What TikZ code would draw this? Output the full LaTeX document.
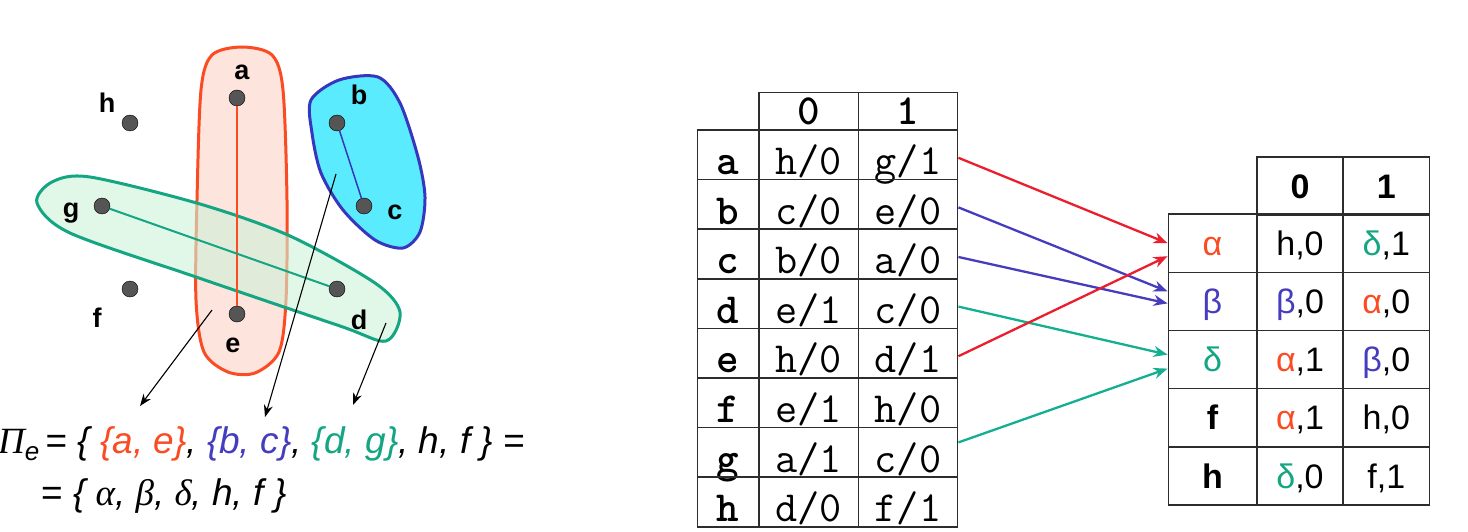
\documentclass[tikz,border=0pt]{standalone}
\usepackage{fontspec}
\usepackage{tikz}
\usetikzlibrary{arrows.meta, positioning}

\newfontfamily\grsans{Liberation Sans}
\newfontfamily\grserif{Liberation Serif}

\definecolor{aeline}{RGB}{250,75,35}
\definecolor{aefill}{RGB}{253,228,220}
\definecolor{bcline}{RGB}{55,55,190}
\definecolor{bcfill}{RGB}{90,235,255}
\definecolor{dgline}{RGB}{20,165,130}
\definecolor{dgfill}{RGB}{205,242,215}
\definecolor{dotgray}{RGB}{85,85,85}
\definecolor{tabline}{RGB}{45,45,45}
\definecolor{arrred}{RGB}{235,30,45}
\definecolor{arrblue}{RGB}{70,60,190}
\definecolor{arrgreen}{RGB}{20,175,145}

% colored greek letters for the reduced table
\newcommand{\gA}{\textcolor{aeline}{α}}
\newcommand{\gB}{\textcolor{arrblue}{β}}
\newcommand{\gD}{\textcolor{dgline}{δ}}

\begin{document}
\begin{tikzpicture}[x=1pt,y=-1pt]
	\tikzstyle{every node}=[font=\grsans]
	\tikzstyle{vtx}=[circle, draw=black, fill=dotgray, inner sep=0pt, minimum size=16pt]
	\tikzstyle{lbl}=[font=\grsans\bfseries\fontsize{27}{27}\selectfont]
	\tikzstyle{ptr}=[draw=black, line width=1.1pt, -{Stealth[length=12pt,width=9pt]}]
	\tikzstyle{tblptr}=[line width=2.3pt, -{Stealth[length=14pt,width=11pt]}]
	\tikzstyle{mcell}=[draw=tabline, line width=1.5pt, inner sep=0pt,
	minimum width=99.4pt, minimum height=49.6pt,
	text height=40pt, text depth=0.8pt, font=\ttfamily\fontsize{43}{43}\selectfont]
	\tikzstyle{mhead}=[mcell, minimum height=37.3pt, text height=28pt, font=\ttfamily\bfseries\fontsize{43}{43}\selectfont]
	\tikzstyle{rcell}=[draw=tabline, line width=1.5pt, inner sep=0pt,
	minimum width=86.4pt, minimum height=58.2pt,
	text height=24pt, text depth=0pt, font=\grsans\fontsize{34}{34}\selectfont]
	\tikzstyle{rhead}=[rcell, font=\grsans\bfseries\fontsize{34}{34}\selectfont]

	\useasboundingbox (0,0) rectangle (1468,532);

	% the three blocks of the partition
	\draw[aeline, line width=3pt, fill=aefill] plot[smooth cycle] coordinates
	{(242,47) (272,55) (283,90) (287,200) (286,300) (279,352) (255,373) (228,372) (204,352) (196,300) (197,200) (201,90) (212,55)};
	\draw[bcline, line width=3pt, fill=bcfill] plot[smooth cycle] coordinates
	{(339,80) (378,77) (400,103) (418,157) (425,197) (420,232) (403,248) (375,240) (343,210) (321,173) (312,133) (311,100)};
	\draw[dgline, line width=3pt, fill=dgfill, fill opacity=0.6] plot[smooth cycle] coordinates
	{(37,203) (52,182) (90,177) (200,204) (290,236) (375,283) (400,312) (386,341) (340,326) (196,277) (70,233)};

	% states
	\node[vtx] (a) at (237,98) {};
	\node[vtx] (b) at (337,123) {};
	\node[vtx] (c) at (364,206) {};
	\node[vtx] (d) at (337,289) {};
	\node[vtx] (e) at (237,314) {};
	\node[vtx] (f) at (130,289) {};
	\node[vtx] (g) at (102,206) {};
	\node[vtx] (h) at (130,123) {};
	\draw[aeline, line width=1.5pt] (a) -- (e);
	\draw[bcline, line width=1.5pt] (b) -- (c);
	\draw[dgline, line width=2pt] (g) -- (d);

	\node[lbl] (la) at (242,72) {a};
	\node[lbl] (lb) at (359,95) {b};
	\node[lbl] (lc) at (395,212) {c};
	\node[lbl] (ld) at (359,320) {d};
	\node[lbl] (le) at (233,345) {e};
	\node[lbl] (lf) at (97,318) {f};
	\node[lbl] (lg) at (71,213) {g};
	\node[lbl] (lh) at (107,103) {h};

	% pointers from the blocks down to the set
	\coordinate (ae-in) at (212,310);
	\coordinate (bc-in) at (336,174);
	\coordinate (dg-in) at (386,323);
	\coordinate (ae-to) at (140,406);
	\coordinate (bc-to) at (265,417);
	\coordinate (dg-to) at (353,405);
	\draw[ptr] (ae-in) -- (ae-to);
	\draw[ptr] (bc-in) -- (bc-to);
	\draw[ptr] (dg-in) -- (dg-to);

	\node[anchor=base west, inner sep=0pt, font=\grsans\itshape\fontsize{37}{37}\selectfont] (set1) at (-2,453)
	{{\grserif Π}\raisebox{-7pt}{\fontsize{26}{26}\selectfont e}\,{\upshape=} \{ \textcolor{aeline}{\{a, e\}}, \textcolor{arrblue}{\{b, c\}}, \textcolor{dgline}{\{d, g\}}, h, f \} {\upshape=}};
	\node[anchor=base west, inner sep=0pt, font=\grsans\itshape\fontsize{37}{37}\selectfont] (set2) at (41,505)
	{{\upshape=} \{ {\grserif α}, {\grserif β}, {\grserif δ}, h, f \}};

	% transition table of the machine
	\node[mhead] (m-0) at (808.6,111.3) {0};
	\node[mhead] (m-1) at (908,111.3) {1};
	\foreach \r/\p/\q [count=\i] in {a/h{/}0/g{/}1, b/c{/}0/e{/}0, c/b{/}0/a{/}0, d/e{/}1/c{/}0,
		e/h{/}0/d{/}1, f/e{/}1/h{/}0, g/a{/}1/c{/}0, h/d{/}0/f{/}1} {
		\node[mcell, minimum width=61.7pt, font=\ttfamily\bfseries\fontsize{43}{43}\selectfont] (m-\r-l) at (728.1,105.2+49.6*\i) {\r};
		\node[mcell] (m-\r-0) at (808.6,105.2+49.6*\i) {\p};
		\node[mcell] (m-\r-1) at (908,105.2+49.6*\i) {\q};
	}

	% reduced table
	\node[rhead] (r-0) at (1300,186.2) {0};
	\node[rhead] (r-1) at (1386.3,186.2) {1};
	\foreach \l/\p/\q [count=\i] in {{\gA/h,0/\gD,1}, {\gB/\gB,0/\gA,0}, {\gD/\gA,1/\gB,0},
		{\textbf{f}/\gA,1/h,0}, {\textbf{h}/\gD,0/f,1}} {
		\node[rcell, minimum width=88.4pt] (r\i-l) at (1212.5,185+58.2*\i) {\l};
		\node[rcell] (r\i-0) at (1300,185+58.2*\i) {\p};
		\node[rcell] (r\i-1) at (1386.3,185+58.2*\i) {\q};
	}

	% merged states go to their block
	\draw[tblptr, arrred] ([yshift=-3pt]m-a-1.east) -- (r1-l.west);
	\draw[tblptr, arrblue] ([yshift=-3pt]m-b-1.east) -- ([yshift=10pt]r2-l.west);
	\draw[tblptr, arrblue] ([yshift=-3pt]m-c-1.east) -- ([yshift=-2pt]r2-l.west);
	\draw[tblptr, arrgreen] ([yshift=-3pt]m-d-1.east) -- ([yshift=5pt]r3-l.west);
	\draw[tblptr, arrred] ([yshift=-3pt]m-e-1.east) -- ([yshift=-13pt]r1-l.west);
	\draw[tblptr, arrgreen] ([yshift=10pt]m-g-1.east) -- ([yshift=-9pt]r3-l.west);
\end{tikzpicture}
\end{document}
